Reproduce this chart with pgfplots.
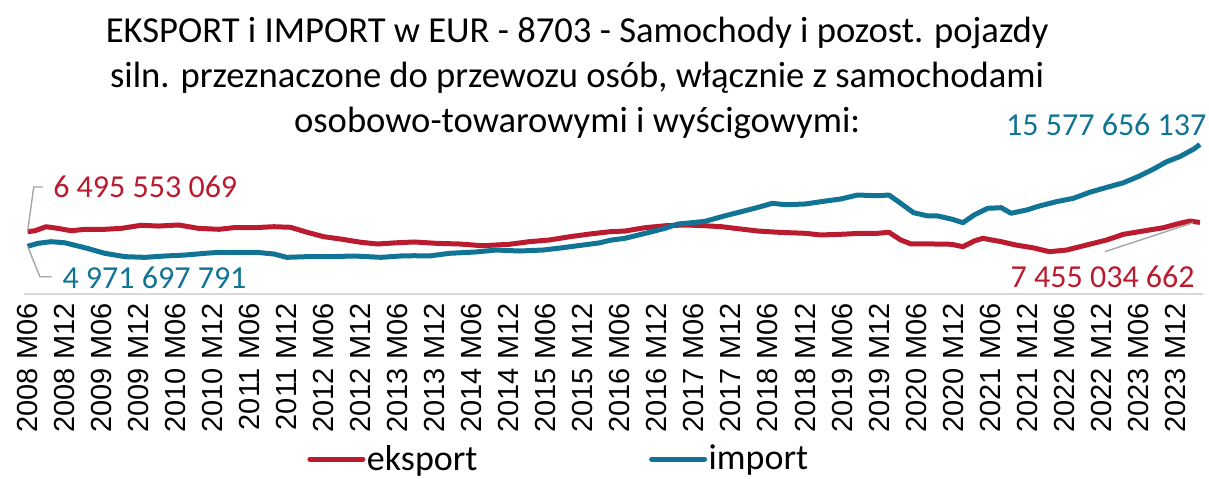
\documentclass[border=0pt]{standalone}
\usepackage{fontspec}
\setmainfont{Carlito}
\newfontfamily\arialfont{Liberation Sans}
\usepackage{pgfplots}
\pgfplotsset{compat=1.18}
\definecolor{exred}{HTML}{BA1B2E}
\definecolor{imteal}{HTML}{127494}
\definecolor{axisgray}{HTML}{D9D9D9}
\definecolor{leadgray}{HTML}{A6A6A6}
\begin{document}
\begin{tikzpicture}
\path[use as bounding box] (0pt,0pt) rectangle (604.5pt,-239pt);
\begin{axis}[
  at={(12.25pt,-147pt)}, anchor=south west,
  scale only axis, width=589.25pt, height=81.6pt,
  xmin=-0.5, xmax=190.5, ymin=0, ymax=17,
  clip=false,
  hide y axis,
  axis x line*=bottom,
  x axis line style={draw=axisgray, line width=0.8pt},
  xtick={0,6,...,186},
  xticklabels={2008 M06,2008 M12,2009 M06,2009 M12,2010 M06,2010 M12,2011 M06,2011 M12,2012 M06,2012 M12,2013 M06,2013 M12,2014 M06,2014 M12,2015 M06,2015 M12,2016 M06,2016 M12,2017 M06,2017 M12,2018 M06,2018 M12,2019 M06,2019 M12,2020 M06,2020 M12,2021 M06,2021 M12,2022 M06,2022 M12,2023 M06,2023 M12},
  major tick length=0pt,
  xticklabel style={rotate=90, anchor=east, inner sep=0pt, font=\arialfont\fontsize{14.5}{16}\selectfont},
  xticklabel shift={4.5pt},
  title={EKSPORT i IMPORT w EUR - 8703 - Samochody i pozost. pojazdy\\siln. przeznaczone do przewozu osób, włącznie z samochodami\\osobowo-towarowymi i wyścigowymi:},
  title style={at={(axis description cs:0.469,1.624)}, anchor=north, align=center, inner sep=0pt, font=\fontsize{18.3}{22.4}\selectfont},
  legend columns=2,
  legend style={at={(axis description cs:0.2397,-1.011)}, anchor=west, draw=none, fill=none, inner sep=0pt,
    font=\fontsize{18}{20}\selectfont, nodes={inner sep=0.8pt},
    /tikz/every even column/.append style={column sep=85pt}},
  legend image code/.code={\draw[#1, line width=2.5pt, line cap=round] (0pt,0pt) -- (26.5pt,0pt);},
]
\addplot[exred, line width=2.5pt, line join=round] coordinates {
(0,6.496) (1.2,6.59) (3,7.01) (4.9,6.84) (7.1,6.59) (9.3,6.74) (12.5,6.74) (15.2,6.84) (18.4,7.16) (21.2,7.08) (24.5,7.19) (27.7,6.84) (31,6.74) (33.4,6.91) (36.7,6.91) (39.9,7.01) (42.6,6.95) (45.3,6.43) (48,5.97) (50.7,5.73) (54,5.39) (56.7,5.21) (59.9,5.34) (62.7,5.42) (66.2,5.28) (70,5.21) (73.7,5.03) (78.1,5.18) (81.3,5.45) (84.6,5.63) (87.9,5.97) (91.1,6.25) (94.4,6.49) (96.8,6.56) (100.1,6.91) (103.3,7.11) (106.6,7.19) (109.8,7.11) (112.5,7.01) (115.2,6.80) (118.4,6.56) (121.7,6.43) (126.1,6.32) (128.5,6.15) (131.8,6.22) (135,6.32) (137.7,6.32) (139.6,6.43) (141.5,5.63) (143.2,5.21) (146.9,5.21) (149.7,5.18) (151.6,4.93) (153.4,5.52) (154.8,5.80) (157.8,5.45) (160.2,5.10) (162.9,4.82) (165.6,4.41) (168.4,4.58) (171.6,5.10) (174.9,5.63) (177.6,6.22) (180.8,6.56) (184.1,6.91) (186.7,7.36) (188.4,7.60) (190,7.455)
};
\addlegendentry{eksport}
\addplot[imteal, line width=2.5pt, line join=round] coordinates {
(0,4.972) (1.7,5.28) (3.8,5.45) (6,5.34) (9.3,4.82) (12.5,4.24) (15.8,3.89) (19,3.82) (22.3,3.96) (25.5,4.06) (28.8,4.24) (31,4.34) (33.4,4.34) (37.1,4.34) (39.9,4.17) (42,3.82) (45.3,3.89) (49.1,3.89) (52.9,3.96) (57.3,3.82) (60.5,3.96) (62.7,3.99) (65.1,3.96) (68.4,4.24) (72.7,4.38) (75.9,4.58) (79.7,4.48) (83.5,4.58) (86.7,4.82) (90,5.10) (92.8,5.34) (94.4,5.60) (96.8,5.80) (100.1,6.32) (103.3,6.84) (105.4,7.29) (107.7,7.43) (109.8,7.57) (113.1,8.16) (116.3,8.68) (118.4,9.03) (120.7,9.45) (122.8,9.30) (126.1,9.38) (128.5,9.61) (131.8,9.90) (134.5,10.31) (137.7,10.24) (139.6,10.31) (141.5,9.45) (143.6,8.47) (145.9,8.13) (147.5,8.13) (149.7,7.81) (151.6,7.43) (153.4,8.23) (155.6,8.93) (157.8,8.99) (159.4,8.41) (161.9,8.75) (164,9.17) (166.7,9.61) (169.5,9.97) (172.1,10.59) (174.9,11.11) (177.6,11.59) (180.2,12.29) (182.4,12.99) (184.6,13.78) (186.7,14.30) (189,15.10) (190,15.578)
};
\addlegendentry{import}
% leader lines
\draw[leadgray, line width=0.7pt] (axis cs:0,6.496) -- (axis cs:1,11.15) -- (axis cs:2.5,11.15);
\draw[leadgray, line width=0.7pt] (axis cs:0,4.972) -- (axis cs:2,1.8) -- (axis cs:3.9,1.8);
\draw[leadgray, line width=0.7pt] (axis cs:188.9,7.43) -- (axis cs:174.6,4.41);
% data labels
\node[anchor=west, inner sep=0pt, text=exred, font=\fontsize{16}{18}\selectfont] at (axis cs:4.1,11.15) {6 495 553 069};
\node[anchor=west, inner sep=0pt, text=imteal, font=\fontsize{16}{18}\selectfont] at (axis cs:5.6,1.7) {4 971 697 791};
\node[anchor=east, inner sep=0pt, text=exred, font=\fontsize{16}{18}\selectfont] at (axis cs:189.2,1.75) {7 455 034 662};
\node[anchor=east, inner sep=0pt, text=imteal, font=\fontsize{16}{18}\selectfont] at (axis cs:191.1,17.6) {15 577 656 137};
\end{axis}
\end{tikzpicture}
\end{document}
